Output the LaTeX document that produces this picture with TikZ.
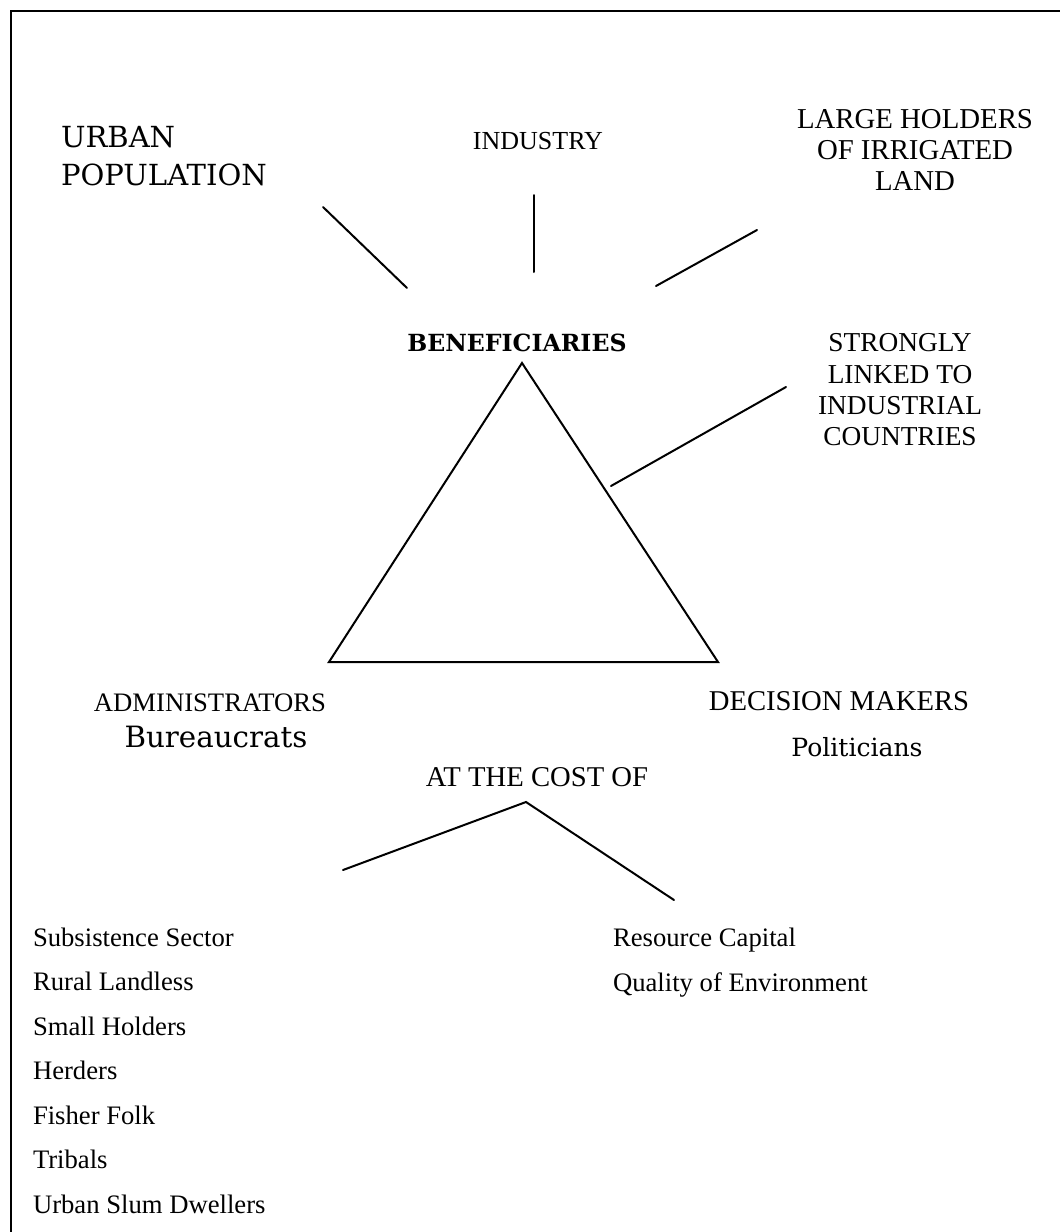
\documentclass[tikz,border=0pt]{standalone}
\usepackage{fontspec}
\setmainfont{Liberation Serif}
\newfontfamily\bookfont{DejaVu Serif}
\newcommand{\myfs}[2]{\fontsize{#1}{#2}\selectfont}
\begin{document}
\begin{tikzpicture}[x=0.75pt,y=-0.75pt,
  lbl/.style={inner sep=0pt, outer sep=0pt, align=center},
  conn/.style={line width=1.5pt, line cap=round},
  frameline/.style={line width=2pt}]
\useasboundingbox (0,0) rectangle (1060,1232);
% frame
\coordinate (fbl) at (11,1232);
\coordinate (ftl) at (11,11);
\coordinate (ftr) at (1060,11);
\draw[frameline] (fbl) -- (ftl) -- (ftr);
% top labels
\node[lbl, anchor=west, align=left, font=\bookfont\myfs{21.8}{28.5}] (urban) at (61,156) {URBAN\\POPULATION};
\node[lbl, font=\myfs{19.5}{23}] (industry) at (538,141) {INDUSTRY};
\node[lbl, font=\myfs{21.6}{23.6}] (large) at (915,150) {LARGE HOLDERS\\OF IRRIGATED\\LAND};
\node[lbl, font=\bookfont\bfseries\myfs{17.7}{20}] (benef) at (517,343) {BENEFICIARIES};
\node[lbl, font=\myfs{20.5}{23.5}] (strong) at (900,390) {STRONGLY\\LINKED TO\\INDUSTRIAL\\COUNTRIES};
% connectors top
\coordinate (u1) at (323,207); \coordinate (u2) at (407,288);
\coordinate (i1) at (534,195); \coordinate (i2) at (534,272);
\coordinate (g1) at (757,230); \coordinate (g2) at (656,286);
\coordinate (s1) at (786,387); \coordinate (s2) at (611,486);
\draw[conn] (u1) -- (u2);
\draw[conn] (i1) -- (i2);
\draw[conn] (g1) -- (g2);
\draw[conn] (s1) -- (s2);
% triangle
\coordinate (apex) at (522,363);
\coordinate (bl) at (329,662);
\coordinate (br) at (718,662);
\draw[conn, line join=miter] (apex) -- (bl) -- (br) -- cycle;
% bottom labels
\node[lbl, font=\myfs{20}{24}] (admin) at (210,703) {ADMINISTRATORS};
\node[lbl, anchor=base, font=\bookfont\myfs{22}{26}] (bureau) at (216,747) {Bureaucrats};
\node[lbl, font=\myfs{21.5}{24}] (decision) at (839,701.5) {DECISION MAKERS};
\node[lbl, anchor=base, font=\bookfont\myfs{18.8}{22}] (polit) at (857,756) {Politicians};
\node[lbl, font=\myfs{21.5}{24}] (cost) at (537,777.5) {AT THE COST OF};
% cost connectors
\coordinate (c0) at (526,802);
\coordinate (cl) at (343,870);
\coordinate (cr) at (674,900);
\draw[conn] (cl) -- (c0) -- (cr);
% lists
\foreach \t [count=\i] in {Subsistence Sector, Rural Landless, Small Holders, Herders, Fisher Folk, Tribals, Urban Slum Dwellers}
  \node[lbl, anchor=base west, font=\myfs{20}{24}] (l\i) at (33,{946+44.5*(\i-1)}) {\t};
\node[lbl, anchor=base west, font=\myfs{20}{24}] (res) at (613,946) {Resource Capital};
\node[lbl, anchor=base west, font=\myfs{20}{24}] (qual) at (613,991) {Quality of Environment};
\end{tikzpicture}
\end{document}
